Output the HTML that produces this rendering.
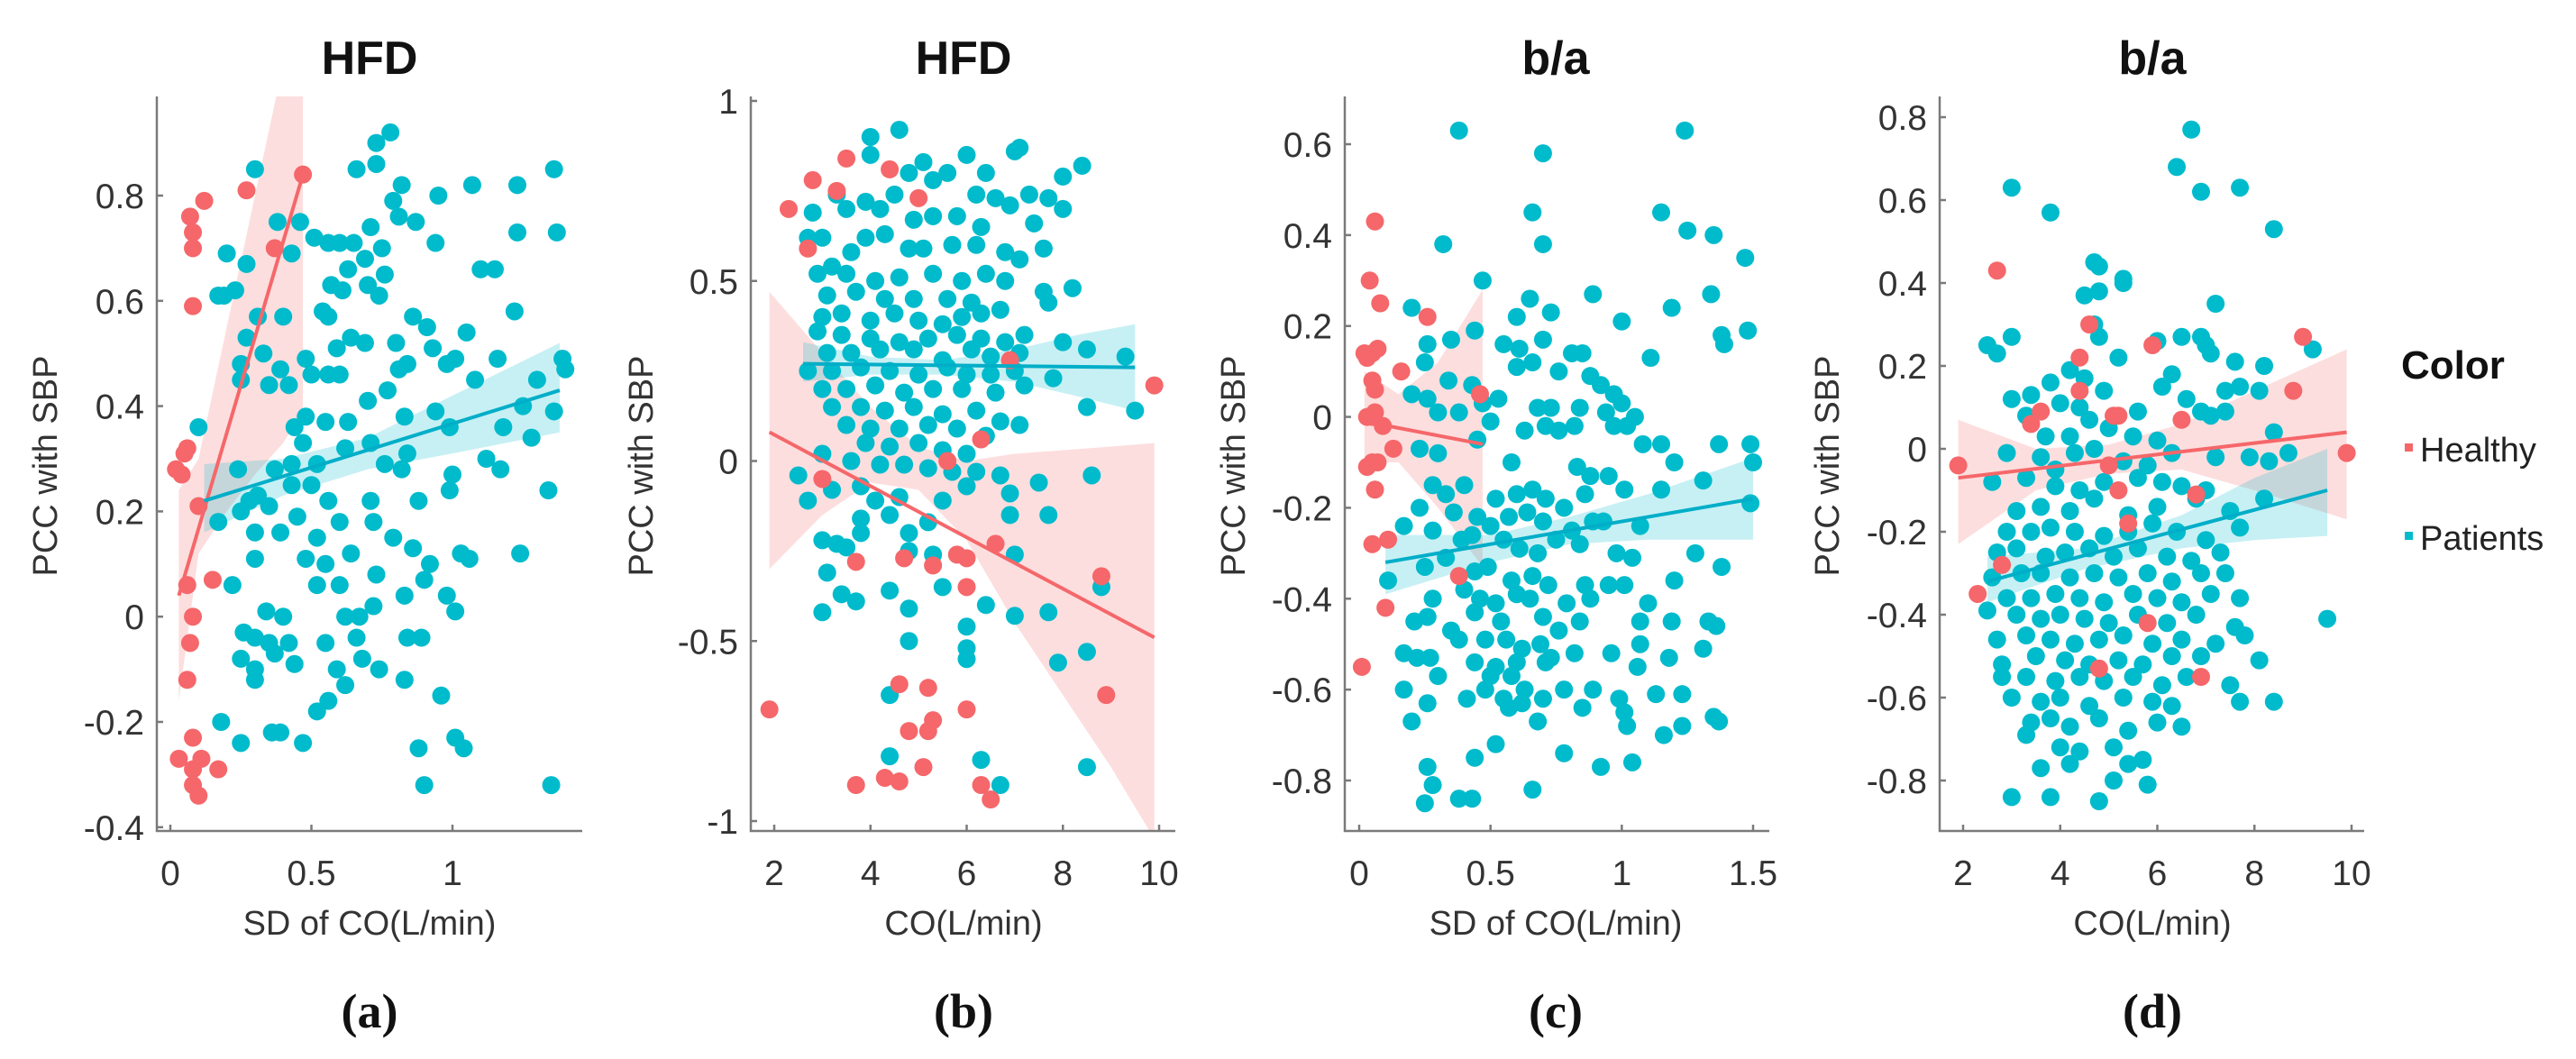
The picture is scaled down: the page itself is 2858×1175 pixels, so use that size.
<!DOCTYPE html>
<html><head><meta charset="utf-8"><style>
html,body{margin:0;padding:0;background:#fff;}
svg{display:block;}
text{font-family:"Liberation Sans",sans-serif;}
</style></head><body>
<svg id="fig" width="2858" height="1175" viewBox="0 0 2858 1175" xmlns="http://www.w3.org/2000/svg">
<defs>
<clipPath id="ca"><rect x="174" y="107" width="472" height="815"/></clipPath>
<clipPath id="cb"><rect x="833" y="107" width="471" height="815"/></clipPath>
<clipPath id="cc"><rect x="1492" y="107" width="471" height="815"/></clipPath>
<clipPath id="cd"><rect x="2152" y="107" width="471" height="815"/></clipPath>
</defs>
<g>
<text x="2664" y="420" font-size="44" font-weight="bold" fill="#111">Color</text>
<rect x="2668" y="492" width="9" height="9" fill="#F5676A"/>
<text x="2685" y="512" font-size="38" fill="#222">Healthy</text>
<rect x="2668" y="590" width="9" height="9" fill="#00BBCC"/>
<text x="2685" y="610" font-size="38" fill="#222">Patients</text>
</g>
</svg>
<script>
// ---------- Panel (a) data ----------
const aHealthy=[[0.02,0.28],[0.04,0.27],[0.05,0.31],[0.06,0.32],[0.07,0.76],[0.08,0.73],[0.08,0.70],[0.08,0.59],[0.12,0.79],[0.27,0.81],[0.37,0.70],[0.47,0.84],[0.1,0.21],[0.15,0.07],[0.06,0.06],[0.08,0.00],[0.07,-0.05],[0.06,-0.12],[0.08,-0.23],[0.03,-0.27],[0.11,-0.27],[0.08,-0.29],[0.17,-0.29],[0.08,-0.32],[0.1,-0.34]];
const aPatients=[[0.3,0.85],[0.78,0.92],[0.73,0.9],[0.73,0.86],[0.66,0.85],[1.36,0.85],[1.07,0.82],[1.23,0.82],[0.82,0.82],[0.95,0.8],[0.79,0.79],[0.81,0.76],[0.87,0.75],[0.38,0.75],[0.46,0.75],[1.23,0.73],[1.37,0.73],[0.71,0.74],[0.51,0.72],[0.56,0.71],[0.6,0.71],[0.65,0.71],[0.94,0.71],[0.43,0.69],[0.75,0.70],[0.2,0.69],[0.27,0.67],[0.69,0.68],[0.63,0.66],[0.76,0.65],[1.1,0.66],[1.15,0.66],[0.57,0.63],[0.61,0.62],[0.74,0.61],[0.17,0.61],[0.23,0.62],[0.19,0.61],[0.7,0.63],[1.22,0.58],[0.54,0.58],[0.56,0.57],[0.31,0.57],[0.4,0.57],[0.86,0.57],[0.91,0.55],[1.05,0.54],[0.27,0.53],[0.64,0.53],[0.69,0.52],[0.59,0.51],[0.8,0.52],[0.48,0.49],[0.33,0.50],[0.93,0.51],[0.98,0.48],[1.01,0.49],[0.25,0.48],[0.39,0.47],[0.5,0.46],[0.56,0.46],[0.6,0.46],[0.81,0.47],[0.84,0.48],[1.16,0.49],[1.39,0.49],[0.25,0.45],[0.35,0.44],[0.42,0.44],[1.08,0.45],[1.3,0.45],[1.4,0.47],[0.7,0.41],[0.77,0.43],[0.83,0.38],[0.94,0.39],[1.25,0.40],[1.36,0.39],[0.1,0.36],[0.48,0.38],[0.44,0.36],[0.55,0.37],[0.63,0.37],[0.71,0.33],[0.99,0.36],[1.18,0.36],[0.47,0.33],[0.62,0.32],[0.84,0.31],[1.12,0.3],[1.28,0.34],[0.24,0.28],[0.37,0.28],[0.43,0.29],[0.52,0.29],[0.76,0.29],[0.82,0.28],[1.0,0.27],[1.17,0.28],[0.31,0.23],[0.25,0.2],[0.17,0.18],[0.28,0.22],[0.35,0.21],[0.43,0.25],[0.5,0.25],[0.56,0.22],[0.71,0.22],[0.88,0.22],[0.99,0.24],[1.34,0.24],[0.3,0.16],[0.39,0.16],[0.45,0.19],[0.52,0.15],[0.6,0.18],[0.72,0.18],[0.79,0.15],[0.86,0.13],[1.03,0.12],[1.06,0.11],[1.24,0.12],[0.3,0.11],[0.48,0.11],[0.55,0.1],[0.64,0.12],[0.92,0.1],[0.22,0.06],[0.52,0.06],[0.6,0.06],[0.73,0.08],[0.9,0.07],[0.98,0.04],[0.34,0.01],[0.4,0.0],[0.62,0.0],[0.67,0.0],[0.72,0.02],[0.83,0.04],[1.01,0.01],[0.26,-0.03],[0.3,-0.04],[0.35,-0.05],[0.42,-0.05],[0.55,-0.05],[0.66,-0.04],[0.84,-0.04],[0.89,-0.04],[0.25,-0.08],[0.3,-0.1],[0.37,-0.07],[0.44,-0.09],[0.68,-0.08],[0.74,-0.1],[0.59,-0.1],[0.62,-0.13],[0.83,-0.12],[0.3,-0.12],[0.96,-0.15],[0.56,-0.16],[0.52,-0.18],[0.18,-0.2],[0.25,-0.24],[0.36,-0.22],[0.39,-0.22],[0.47,-0.24],[0.88,-0.25],[1.01,-0.23],[1.04,-0.25],[0.9,-0.32],[1.35,-0.32]];
const aHealthyFit=[[0.03,0.04],[0.47,0.84]];
const aHealthyBand=[[0.03,-0.16,0.24],[0.1,0.12,0.3],[0.2,0.2,0.55],[0.3,0.27,0.8],[0.4,0.33,1.05],[0.47,0.39,1.25]];
const aPatientsFit=[[0.12,0.22],[1.38,0.43]];
const aPatientsBand=[[0.12,0.16,0.29],[0.4,0.23,0.3],[0.7,0.28,0.34],[1.0,0.31,0.42],[1.38,0.35,0.52]];
const aXTicks=[0,0.5,1];
const aYTicks=[-0.4,-0.2,0,0.2,0.4,0.6,0.8];

// ---------- Panel (b) data ----------
const bHealthy=[[2.3,0.7],[2.8,0.78],[3.3,0.75],[3.5,0.84],[4.4,0.81],[5.0,0.73],[2.7,0.59],[1.9,-0.69],[3.7,-0.9],[4.3,-0.88],[4.6,-0.89],[5.1,-0.85],[4.6,-0.62],[5.2,-0.63],[5.3,-0.72],[5.2,-0.75],[4.8,-0.75],[6.0,-0.69],[6.3,-0.9],[6.5,-0.94],[3.0,-0.05],[3.7,-0.28],[4.7,-0.27],[5.3,-0.29],[5.8,-0.26],[6.0,-0.27],[6.0,-0.35],[6.6,-0.23],[8.8,-0.32],[8.9,-0.65],[9.9,0.21],[6.3,0.06],[6.9,0.28],[5.6,0.0]];
const bPatients=[[4.6,0.92],[4.0,0.9],[4.0,0.85],[3.3,0.74],[3.9,0.72],[4.5,0.74],[4.8,0.8],[5.1,0.83],[5.3,0.78],[5.6,0.8],[6.0,0.85],[6.4,0.8],[7.0,0.86],[7.1,0.87],[8.0,0.79],[8.4,0.82],[6.2,0.74],[6.6,0.73],[6.9,0.71],[7.3,0.74],[7.7,0.73],[8.0,0.7],[2.8,0.69],[3.5,0.7],[4.2,0.7],[4.9,0.67],[5.3,0.68],[5.8,0.68],[6.3,0.65],[7.4,0.66],[2.7,0.62],[3.0,0.62],[3.6,0.58],[3.9,0.62],[4.3,0.63],[4.8,0.59],[5.1,0.59],[5.7,0.6],[6.2,0.6],[6.8,0.58],[7.6,0.59],[7.1,0.56],[3.2,0.54],[2.9,0.52],[3.5,0.52],[4.1,0.5],[4.6,0.51],[5.3,0.52],[5.9,0.5],[6.4,0.52],[6.8,0.5],[7.6,0.47],[8.2,0.48],[3.1,0.46],[3.7,0.47],[4.3,0.45],[4.9,0.45],[5.6,0.45],[6.1,0.44],[6.7,0.42],[7.7,0.44],[3.0,0.4],[3.4,0.41],[4.0,0.39],[4.5,0.41],[5.0,0.39],[5.5,0.38],[5.9,0.4],[6.3,0.41],[2.9,0.36],[3.4,0.35],[4.0,0.34],[4.6,0.33],[5.2,0.34],[5.8,0.35],[6.3,0.34],[6.8,0.33],[7.2,0.35],[8.0,0.33],[3.1,0.3],[3.6,0.3],[4.2,0.31],[4.9,0.31],[5.5,0.28],[6.1,0.31],[6.5,0.29],[7.1,0.3],[8.5,0.31],[9.3,0.29],[2.7,0.25],[3.2,0.25],[3.8,0.26],[4.4,0.25],[5.0,0.24],[5.6,0.26],[6.0,0.24],[6.5,0.24],[7.0,0.25],[7.8,0.23],[3.0,0.2],[3.5,0.2],[4.1,0.21],[4.7,0.19],[5.3,0.2],[5.9,0.2],[6.6,0.19],[7.2,0.21],[8.5,0.15],[9.5,0.14],[3.2,0.15],[3.8,0.15],[4.3,0.14],[4.9,0.15],[5.5,0.13],[6.2,0.14],[6.7,0.11],[3.5,0.1],[4.0,0.09],[4.6,0.09],[5.2,0.1],[5.8,0.09],[6.4,0.07],[7.1,0.1],[3.9,0.05],[4.4,0.04],[5.0,0.05],[5.5,0.03],[6.0,0.02],[2.5,-0.04],[3.0,0.02],[3.6,0.0],[4.2,-0.01],[4.7,-0.01],[5.2,-0.02],[5.7,-0.03],[6.2,-0.03],[6.7,-0.04],[8.6,-0.04],[2.7,-0.11],[3.2,-0.08],[3.8,-0.07],[4.1,-0.11],[4.6,-0.1],[5.5,-0.11],[6.0,-0.07],[6.9,-0.09],[7.5,-0.06],[3.8,-0.16],[4.4,-0.15],[4.8,-0.2],[5.2,-0.17],[6.9,-0.15],[7.7,-0.15],[3.0,-0.22],[3.3,-0.23],[3.5,-0.24],[3.8,-0.2],[4.8,-0.25],[5.3,-0.26],[7.0,-0.26],[3.1,-0.31],[3.4,-0.37],[3.0,-0.42],[3.7,-0.39],[4.4,-0.36],[4.8,-0.41],[5.5,-0.35],[6.4,-0.4],[7.0,-0.43],[7.7,-0.42],[6.0,-0.46],[6.0,-0.52],[6.0,-0.55],[4.8,-0.5],[4.4,-0.65],[7.9,-0.56],[8.5,-0.53],[4.4,-0.82],[6.3,-0.83],[6.7,-0.9],[8.5,-0.85],[8.8,-0.35]];
const bHealthyFit=[[1.9,0.08],[9.9,-0.49]];
const bHealthyBand=[[1.9,-0.3,0.47],[3,-0.15,0.3],[4,-0.06,0.15],[5,-0.08,0.04],[6,-0.22,0.0],[7,-0.45,0.02],[8,-0.65,0.03],[9,-0.85,0.04],[9.9,-1.05,0.05]];
const bPatientsFit=[[2.6,0.27],[9.5,0.26]];
const bPatientsBand=[[2.6,0.22,0.33],[4,0.24,0.29],[5.5,0.24,0.28],[7,0.22,0.31],[8.3,0.18,0.35],[9.5,0.14,0.38]];
const bXTicks=[2,4,6,8,10];
const bYTicks=[-1,-0.5,0,0.5,1];

// ---------- Panel (c) data ----------
const cHealthy=[[0.02,0.14],[0.03,0.13],[0.05,0.14],[0.07,0.15],[0.06,0.43],[0.04,0.3],[0.08,0.25],[0.05,0.08],[0.06,0.06],[0.06,0.01],[0.03,0.0],[0.05,0.0],[0.09,-0.02],[0.16,0.1],[0.13,-0.07],[0.03,-0.11],[0.05,-0.1],[0.07,-0.1],[0.06,-0.16],[0.26,0.22],[0.46,0.05],[0.05,-0.28],[0.11,-0.27],[0.1,-0.42],[0.01,-0.55],[0.38,-0.35]];
const cPatients=[[0.38,0.63],[1.24,0.63],[0.7,0.58],[0.66,0.45],[0.32,0.38],[0.7,0.38],[1.15,0.45],[1.25,0.41],[1.35,0.4],[1.47,0.35],[0.47,0.3],[1.34,0.27],[0.89,0.27],[0.65,0.26],[1.0,0.21],[1.19,0.24],[0.2,0.24],[0.6,0.22],[0.73,0.23],[0.44,0.19],[0.26,0.16],[0.35,0.17],[0.55,0.16],[0.61,0.15],[0.7,0.17],[0.81,0.14],[0.85,0.14],[1.38,0.18],[1.48,0.19],[1.39,0.16],[0.25,0.12],[0.6,0.11],[0.66,0.12],[0.76,0.1],[1.11,0.13],[0.2,0.05],[0.26,0.04],[0.34,0.08],[0.43,0.07],[0.53,0.04],[0.88,0.09],[0.92,0.07],[0.97,0.05],[0.3,0.01],[0.38,0.01],[0.47,0.03],[0.5,-0.01],[0.68,0.02],[0.73,0.02],[0.84,0.02],[0.94,0.01],[1.0,0.03],[1.02,-0.02],[0.63,-0.03],[0.71,-0.02],[0.76,-0.03],[0.82,-0.02],[0.97,-0.02],[1.05,0.0],[1.08,-0.06],[1.15,-0.06],[0.23,-0.07],[0.3,-0.08],[0.45,-0.05],[0.58,-0.1],[0.83,-0.11],[0.88,-0.13],[0.95,-0.13],[1.2,-0.1],[1.37,-0.06],[1.49,-0.06],[1.5,-0.1],[0.28,-0.15],[0.33,-0.17],[0.4,-0.15],[0.52,-0.18],[0.6,-0.17],[0.66,-0.16],[0.71,-0.18],[0.78,-0.2],[0.86,-0.17],[1.01,-0.16],[1.15,-0.16],[1.31,-0.14],[0.23,-0.2],[0.36,-0.21],[0.45,-0.22],[0.5,-0.24],[0.57,-0.22],[0.64,-0.21],[0.7,-0.23],[0.81,-0.25],[0.89,-0.23],[0.93,-0.23],[1.07,-0.24],[1.49,-0.19],[0.17,-0.24],[0.28,-0.25],[0.39,-0.27],[0.43,-0.26],[0.55,-0.27],[0.61,-0.29],[0.68,-0.3],[0.75,-0.27],[0.84,-0.28],[0.98,-0.3],[1.04,-0.31],[1.28,-0.3],[0.11,-0.36],[0.25,-0.33],[0.33,-0.31],[0.44,-0.34],[0.49,-0.33],[0.58,-0.36],[0.66,-0.35],[0.72,-0.37],[0.86,-0.37],[0.95,-0.37],[1.01,-0.37],[1.2,-0.36],[1.38,-0.33],[0.28,-0.4],[0.4,-0.38],[0.46,-0.4],[0.52,-0.41],[0.6,-0.39],[0.65,-0.4],[0.79,-0.41],[0.88,-0.4],[1.1,-0.41],[0.21,-0.45],[0.26,-0.44],[0.35,-0.47],[0.44,-0.43],[0.54,-0.45],[0.7,-0.44],[0.76,-0.47],[0.84,-0.45],[1.07,-0.45],[1.19,-0.45],[1.33,-0.45],[1.36,-0.46],[0.38,-0.49],[0.48,-0.49],[0.56,-0.49],[0.62,-0.51],[0.69,-0.5],[0.73,-0.53],[0.82,-0.52],[0.96,-0.52],[1.07,-0.5],[1.18,-0.53],[1.31,-0.51],[0.17,-0.52],[0.22,-0.53],[0.27,-0.53],[0.44,-0.54],[0.52,-0.55],[0.6,-0.54],[0.71,-0.54],[1.06,-0.55],[0.3,-0.57],[0.5,-0.57],[0.58,-0.57],[0.63,-0.6],[0.17,-0.6],[0.48,-0.6],[0.55,-0.62],[0.41,-0.62],[0.57,-0.64],[0.62,-0.63],[0.7,-0.62],[0.78,-0.6],[0.89,-0.6],[0.99,-0.62],[1.13,-0.61],[1.23,-0.61],[0.2,-0.67],[0.26,-0.63],[0.68,-0.67],[0.85,-0.64],[1.01,-0.65],[1.35,-0.66],[1.37,-0.67],[1.02,-0.68],[0.52,-0.72],[0.44,-0.75],[0.78,-0.74],[0.26,-0.77],[0.92,-0.77],[1.04,-0.76],[1.16,-0.7],[1.23,-0.68],[0.66,-0.82],[0.28,-0.81],[0.25,-0.85],[0.38,-0.84],[0.43,-0.84]];
const cHealthyFit=[[0.02,-0.01],[0.47,-0.06]];
const cHealthyBand=[[0.02,-0.1,0.1],[0.15,-0.1,0.05],[0.3,-0.2,0.12],[0.47,-0.33,0.28]];
const cPatientsFit=[[0.1,-0.32],[1.5,-0.18]];
const cPatientsBand=[[0.1,-0.39,-0.26],[0.5,-0.32,-0.26],[0.8,-0.28,-0.22],[1.1,-0.27,-0.17],[1.5,-0.27,-0.09]];
const cXTicks=[0,0.5,1,1.5];
const cYTicks=[-0.8,-0.6,-0.4,-0.2,0,0.2,0.4,0.6];

// ---------- Panel (d) data ----------
const dHealthy=[[1.9,-0.04],[2.3,-0.35],[2.7,0.43],[2.8,-0.28],[3.6,0.09],[3.4,0.06],[4.4,0.22],[4.4,0.14],[4.6,0.3],[5.2,0.08],[5.1,0.08],[5.0,-0.04],[5.9,0.25],[6.5,0.07],[6.8,-0.11],[8.8,0.14],[9.0,0.27],[9.9,-0.01],[6.9,-0.55],[5.8,-0.42],[5.2,-0.1],[4.8,-0.53],[5.4,-0.18]];
const dPatients=[[6.7,0.77],[6.4,0.68],[7.7,0.63],[6.9,0.62],[3.0,0.63],[3.8,0.57],[8.4,0.53],[4.7,0.45],[4.8,0.44],[5.3,0.41],[5.3,0.4],[4.5,0.37],[4.8,0.38],[7.2,0.35],[4.7,0.3],[4.8,0.27],[2.5,0.25],[2.7,0.23],[3.0,0.27],[6.0,0.26],[6.5,0.27],[6.9,0.27],[7.0,0.25],[9.2,0.24],[4.2,0.19],[4.5,0.17],[3.8,0.16],[5.2,0.22],[6.3,0.18],[7.1,0.23],[7.6,0.21],[8.2,0.2],[3.0,0.12],[3.4,0.13],[4.0,0.11],[4.4,0.1],[4.9,0.14],[5.6,0.09],[6.1,0.15],[6.6,0.12],[7.1,0.08],[7.4,0.14],[7.7,0.15],[8.1,0.14],[3.3,0.08],[3.7,0.03],[4.2,0.03],[4.6,0.07],[5.0,0.05],[5.5,0.03],[6.0,0.02],[6.9,0.09],[7.4,0.09],[8.4,0.04],[2.9,-0.01],[3.6,-0.02],[3.9,-0.05],[4.3,-0.01],[4.7,0.0],[5.3,-0.03],[5.8,-0.04],[6.3,-0.01],[7.2,-0.02],[7.9,-0.02],[8.3,-0.03],[8.7,-0.01],[2.6,-0.08],[3.3,-0.07],[3.9,-0.09],[4.4,-0.1],[4.9,-0.08],[5.6,-0.07],[6.1,-0.08],[6.5,-0.09],[7.0,-0.1],[3.1,-0.15],[3.6,-0.14],[4.2,-0.15],[4.7,-0.12],[5.4,-0.16],[6.0,-0.14],[6.8,-0.12],[7.5,-0.15],[8.2,-0.12],[2.9,-0.2],[3.4,-0.2],[3.8,-0.19],[4.3,-0.2],[4.9,-0.21],[5.4,-0.2],[5.9,-0.18],[6.4,-0.2],[7.0,-0.22],[7.7,-0.19],[2.7,-0.25],[3.1,-0.24],[3.7,-0.26],[4.1,-0.25],[4.6,-0.24],[5.1,-0.26],[5.6,-0.24],[6.2,-0.26],[6.7,-0.27],[7.3,-0.25],[2.6,-0.31],[3.2,-0.3],[3.6,-0.3],[4.2,-0.31],[4.7,-0.3],[5.2,-0.31],[5.8,-0.3],[6.3,-0.32],[6.9,-0.3],[7.4,-0.3],[2.9,-0.36],[3.4,-0.36],[3.9,-0.35],[4.4,-0.36],[4.9,-0.37],[5.5,-0.35],[6.0,-0.36],[6.5,-0.37],[7.1,-0.35],[7.7,-0.36],[2.5,-0.39],[3.1,-0.4],[3.6,-0.41],[4.0,-0.4],[4.5,-0.41],[5.0,-0.42],[5.6,-0.4],[6.2,-0.42],[6.8,-0.4],[7.6,-0.43],[9.5,-0.41],[2.7,-0.46],[3.3,-0.45],[3.8,-0.46],[4.3,-0.47],[4.8,-0.46],[5.3,-0.45],[5.9,-0.47],[6.5,-0.46],[7.2,-0.47],[7.8,-0.45],[2.8,-0.52],[3.5,-0.5],[4.1,-0.51],[4.6,-0.52],[5.2,-0.51],[5.7,-0.52],[6.3,-0.5],[6.9,-0.5],[8.1,-0.51],[2.8,-0.55],[3.3,-0.55],[3.9,-0.56],[4.4,-0.55],[4.9,-0.56],[5.5,-0.55],[6.1,-0.57],[6.6,-0.55],[7.5,-0.57],[3.0,-0.6],[3.6,-0.61],[4.0,-0.6],[4.6,-0.62],[5.3,-0.6],[5.9,-0.61],[6.3,-0.62],[7.7,-0.61],[8.4,-0.61],[3.4,-0.66],[3.8,-0.65],[4.2,-0.67],[4.8,-0.65],[5.4,-0.68],[6.0,-0.66],[6.5,-0.67],[3.3,-0.69],[4.0,-0.72],[4.4,-0.73],[5.1,-0.72],[5.4,-0.76],[3.6,-0.77],[4.2,-0.76],[5.7,-0.75],[3.0,-0.84],[3.8,-0.84],[4.8,-0.85],[5.1,-0.8],[5.8,-0.81]];
const dHealthyFit=[[1.9,-0.07],[9.9,0.04]];
const dHealthyBand=[[1.9,-0.23,0.07],[3.5,-0.1,0.0],[5,-0.06,0.01],[6.5,-0.05,0.06],[8,-0.1,0.14],[9.9,-0.17,0.24]];
const dPatientsFit=[[2.5,-0.32],[9.5,-0.1]];
const dPatientsBand=[[2.5,-0.37,-0.26],[4.5,-0.29,-0.24],[6.5,-0.24,-0.16],[8,-0.22,-0.07],[9.5,-0.21,0.0]];
const dXTicks=[2,4,6,8,10];
const dYTicks=[-0.8,-0.6,-0.4,-0.2,0,0.2,0.4,0.6,0.8];

const NS='http://www.w3.org/2000/svg';
const svg=document.getElementById('fig');
const RED='#F5676A', CYAN='#00BBCC';
function mk(tag,attrs,parent){const e=document.createElementNS(NS,tag);for(const k in attrs)e.setAttribute(k,attrs[k]);(parent||svg).appendChild(e);return e;}
function fmt(v){return (Math.round(v*10)/10).toString();}

const panels=[
 {id:'a',title:'HFD',xlabel:'SD of CO(L/min)',label:'(a)',L:174,R:646,ylabX:50,cx:410,
  x0:0,px0:189,x1:1,px1:502,y0:0.8,py0:217,y1:-0.4,py1:917.8,
  H:aHealthy,P:aPatients,HF:aHealthyFit,HB:aHealthyBand,PF:aPatientsFit,PB:aPatientsBand,XT:aXTicks,YT:aYTicks},
 {id:'b',title:'HFD',xlabel:'CO(L/min)',label:'(b)',L:833,R:1304,ylabX:711,cx:1069,
  x0:2,px0:859,x1:10,px1:1286,y0:1,py0:112,y1:-1,py1:911,
  H:bHealthy,P:bPatients,HF:bHealthyFit,HB:bHealthyBand,PF:bPatientsFit,PB:bPatientsBand,XT:bXTicks,YT:bYTicks},
 {id:'c',title:'b/a',xlabel:'SD of CO(L/min)',label:'(c)',L:1492,R:1963,ylabX:1368,cx:1726,
  x0:0,px0:1508,x1:1.5,px1:1945,y0:0.6,py0:160,y1:-0.8,py1:866,
  H:cHealthy,P:cPatients,HF:cHealthyFit,HB:cHealthyBand,PF:cPatientsFit,PB:cPatientsBand,XT:cXTicks,YT:cYTicks},
 {id:'d',title:'b/a',xlabel:'CO(L/min)',label:'(d)',L:2152,R:2623,ylabX:2027,cx:2388,
  x0:2,px0:2178,x1:10,px1:2609,y0:0.8,py0:130,y1:-0.8,py1:866,
  H:dHealthy,P:dPatients,HF:dHealthyFit,HB:dHealthyBand,PF:dPatientsFit,PB:dPatientsBand,XT:dXTicks,YT:dYTicks}
];
const TOP=107, BOT=922;

panels.forEach(p=>{
  const X=v=>p.px0+(v-p.x0)*(p.px1-p.px0)/(p.x1-p.x0);
  const Y=v=>p.py0+(v-p.y0)*(p.py1-p.py0)/(p.y1-p.y0);
  const g=mk('g',{});
  
  
  const plot=mk('g',{'clip-path':'url(#c'+p.id+')'},g);
  
  
  function band(B,color,name){
    let d='M'+B.map(r=>X(r[0])+','+Y(r[2])).join(' L');
    d+=' L'+B.slice().reverse().map(r=>X(r[0])+','+Y(r[1])).join(' L')+' Z';
    const e=mk('path',{d:d,fill:color,'fill-opacity':0.22,stroke:'none'},plot);
    
    
  }
  function pts(D,color,name){
    D.forEach(q=>{
      const c=mk('circle',{cx:X(q[0]),cy:Y(q[1]),r:10,fill:color},plot);
      
      
    });
  }
  function line(F,color,name){
    const e=mk('line',{x1:X(F[0][0]),y1:Y(F[0][1]),x2:X(F[1][0]),y2:Y(F[1][1]),stroke:color,'stroke-width':4},plot);
    
    
  }
  band(p.HB,RED,'healthy-ci-band');
  band(p.PB,CYAN,'patients-ci-band');
  pts(p.P,CYAN,'patient-point');
  pts(p.H,RED,'healthy-point');
  line(p.HF,RED,'healthy-fit-line');
  line(p.PF,'#00AEC8','patients-fit-line');
  const ax=mk('path',{d:`M${p.L},${TOP} L${p.L},${BOT} L${p.R},${BOT}`,fill:'none',stroke:'#7a7a7a','stroke-width':2.5},g);
  
  
  p.YT.forEach(v=>{
    const y=Y(v);
    mk('line',{x1:p.L,y1:y,x2:p.L+7,y2:y,stroke:'#7a7a7a','stroke-width':2.5},g);
    const t=mk('text',{x:p.L-14,y:y+14,'text-anchor':'end','font-size':39,fill:'#333'},g);
    t.textContent=fmt(v);
    
    
  });
  p.XT.forEach(v=>{
    const x=X(v);
    mk('line',{x1:x,y1:BOT,x2:x,y2:BOT-7,stroke:'#7a7a7a','stroke-width':2.5},g);
    const t=mk('text',{x:x,y:982,'text-anchor':'middle','font-size':39,fill:'#333'},g);
    t.textContent=fmt(v);
    
    
  });
  const tt=mk('text',{x:p.cx,y:82,'text-anchor':'middle','font-size':52,'font-weight':'bold',fill:'#111'},g);
  tt.textContent=p.title;
  
  
  const xl=mk('text',{x:p.cx,y:1037,'text-anchor':'middle','font-size':38,fill:'#333'},g);
  xl.textContent=p.xlabel;
  
  
  const yl=mk('text',{x:0,y:0,'text-anchor':'middle','font-size':38,fill:'#333',transform:`translate(${p.ylabX+13},517) rotate(-90)`},g);
  yl.textContent='PCC with SBP';
  
  
  const pl=mk('text',{x:p.cx,y:1140,'text-anchor':'middle',fill:'#111',style:'font-family:"Liberation Serif",serif;font-size:54px;font-weight:bold;'},g);
  pl.textContent=p.label;
  
  
});
</script>
</body></html>
